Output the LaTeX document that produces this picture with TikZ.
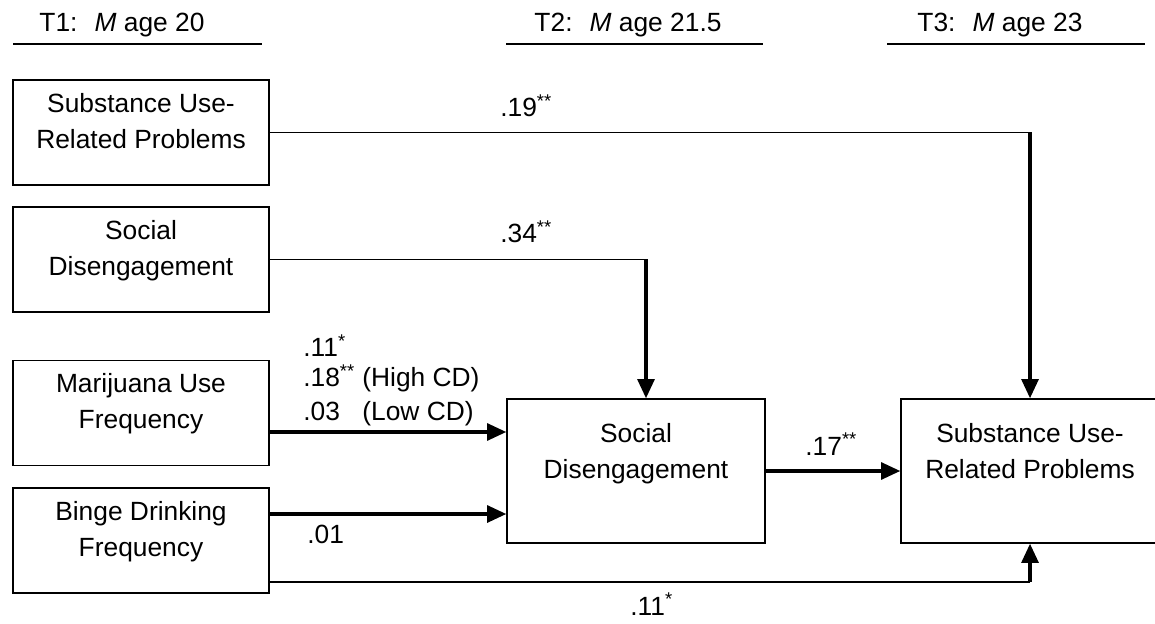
\documentclass[tikz,border=0pt]{standalone}
\usepackage{fontspec}
\setmainfont{Liberation Sans}
\usetikzlibrary{arrows.meta,positioning,calc}

\begin{document}
\begin{tikzpicture}[x=0.02cm,y=-0.02cm,
    font={\fontsize{15}{20.4}\selectfont},
    box/.style={draw,line width=0.7pt,minimum width=5.12cm,minimum height=2.1cm,inner sep=0pt},
    bigbox/.style={box,minimum width=5.16cm,minimum height=2.88cm},
    boxtext/.style={align=center,inner sep=0pt,anchor=north},
    lbl/.style={anchor=base west,inner sep=0pt},
    thinline/.style={line width=0.7pt},
    thickarrow/.style={line width=2.2pt,-{Triangle[length=11pt,width=9.5pt]}}]
  \useasboundingbox (0,0) rectangle (1155,624);

% time headers
  \node[anchor=base] (t1head) at (122,32) {T1:~ \textit{M} age 20};
  \node[anchor=base] (t2head) at (628,32) {T2:~ \textit{M} age 21.5};
  \node[anchor=base] (t3head) at (1000,32) {T3:~ \textit{M} age 23};
  \draw[thinline] (13,44) -- (262,44);
  \draw[thinline] (506,44) -- (763,44);
  \draw[thinline] (887,44) -- (1145,44);

% T1 boxes
  \node[box] (sup1) at (141,132.5) {};
  \node[boxtext,below=0.27cm of sup1.north] (sup1txt) {Substance Use-\\Related Problems};
  \node[box] (dis1) at (141,259.5) {};
  \node[boxtext,below=0.27cm of dis1.north] (dis1txt) {Social\\Disengagement};
  \node[box] (mar1) at (141,413) {};
  \node[boxtext,below=0.27cm of mar1.north] (mar1txt) {Marijuana Use\\Frequency};
  \node[box] (bin1) at (141,540.5) {};
  \node[boxtext,below=0.27cm of bin1.north] (bin1txt) {Binge Drinking\\Frequency};

% T2 and T3 boxes
  \node[bigbox] (dis2) at (636,471) {};
  \node[boxtext,below=0.49cm of dis2.north] (dis2txt) {Social\\Disengagement};
  \node[bigbox] (sup3) at (1030,471) {};
  \node[boxtext,below=0.49cm of sup3.north] (sup3txt) {Substance Use-\\Related Problems};

% paths
  \coordinate (k19) at (sup1.east -| sup3.north);
  \draw[thinline] (sup1.east) -- (k19);
  \draw[thickarrow] (k19) -- (sup3.north);

  \coordinate (d34) at ($(dis2.north)+(10,0)$);
  \coordinate (k34) at (dis1.east -| d34);
  \draw[thinline] (dis1.east) -- (k34);
  \draw[thickarrow] (k34) -- (d34);

  \coordinate (m0) at ([yshift=-0.38cm]mar1.east);
  \draw[thickarrow] (m0) -- (m0 -| dis2.west);

  \coordinate (b0) at ([yshift=0.53cm]bin1.east);
  \draw[thickarrow] (b0) -- (b0 -| dis2.west);

  \coordinate (b1) at ([yshift=-0.83cm]bin1.east);
  \coordinate (k11) at (b1 -| sup3.south);
  \draw[thinline] (b1) -- (k11);
  \draw[thickarrow] (k11) -- (sup3.south);

  \draw[thickarrow] (dis2.east) -- (sup3.west);

% coefficients
  \node[lbl] (l19) at (500,117) {.19\textsuperscript{**}};
  \node[lbl] (l34) at (500,243) {.34\textsuperscript{**}};
  \node[lbl] (l11a) at (303,357) {.11\textsuperscript{*}};
  \node[lbl] (l18) at (303,387) {.18\textsuperscript{**}};
  \node[lbl] (lhigh) at (362,387) {(High CD)};
  \node[lbl] (l03) at (303,420) {.03};
  \node[lbl] (llow) at (362,420) {(Low CD)};
  \node[lbl] (l01) at (307,543) {.01};
  \node[lbl] (l17) at (805,455) {.17\textsuperscript{**}};
  \node[lbl] (l11b) at (630,615) {.11\textsuperscript{*}};
\end{tikzpicture}
\end{document}
